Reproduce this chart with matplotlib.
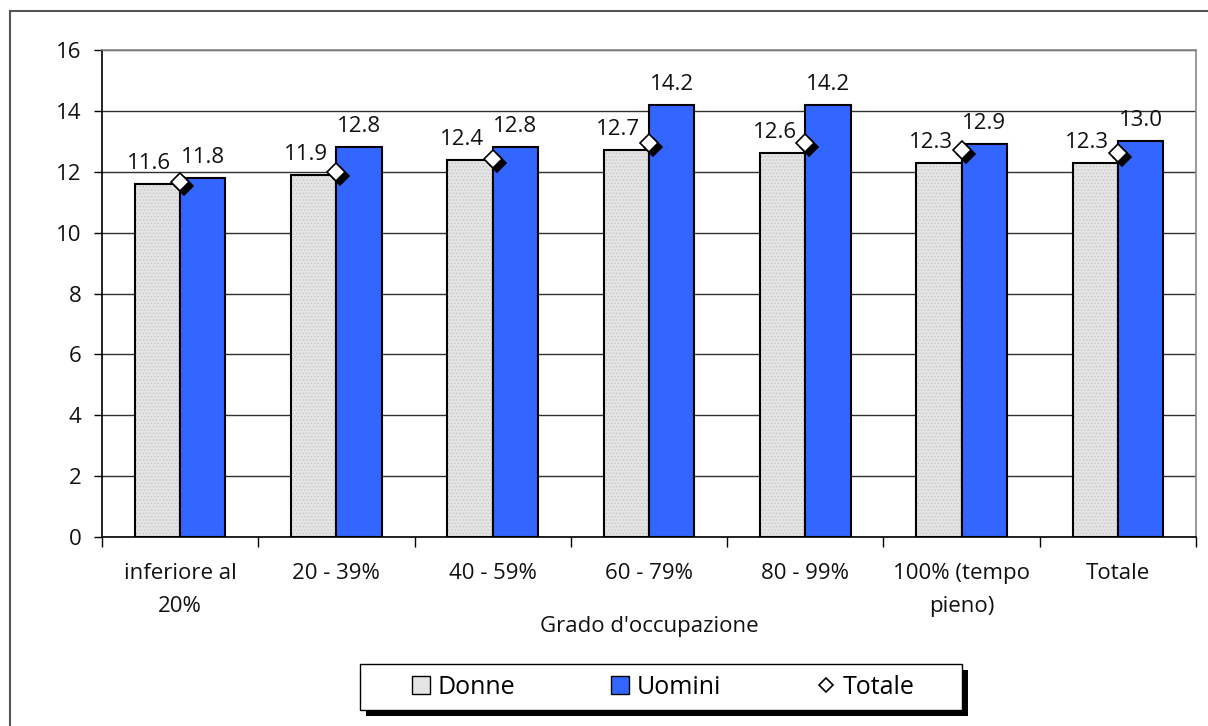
import numpy as np
import matplotlib
matplotlib.use('Agg')
import matplotlib.pyplot as plt
from matplotlib.patches import Rectangle, Patch
from matplotlib.lines import Line2D
from matplotlib.transforms import offset_copy

# values
categories = ['inferiore al\n20%', '20 - 39%', '40 - 59%', '60 - 79%',
              '80 - 99%', '100% (tempo\npieno)', 'Totale']
donne = [11.6, 11.9, 12.4, 12.7, 12.6, 12.3, 12.3]
uomini = [11.8, 12.8, 12.8, 14.2, 14.2, 12.9, 13.0]
totale = [11.65, 12.0, 12.43, 12.95, 12.95, 12.72, 12.6]
yticks = [0, 2, 4, 6, 8, 10, 12, 14, 16]
series_names = ['Donne', 'Uomini', 'Totale']
xlabel = "Grado d'occupazione"

W, H = 1208, 726
plt.rcParams['font.family'] = ['Open Sans', 'DejaVu Sans']
plt.rcParams['font.size'] = 16
plt.rcParams['hatch.linewidth'] = 0.5

fig = plt.figure(figsize=(W / 100, H / 100), dpi=100)
ax = fig.add_axes([102 / W, 1 - 537 / H, (1196 - 102) / W, (537 - 50) / H])

x = np.arange(len(categories))
w = 0.29
grey = '#e4e4e4'
blue = '#3366ff'

# donne: dotted grey fill, then black outline
ax.bar(x - w / 2, donne, w, color=grey, edgecolor='#c4c4c4', hatch='.....', linewidth=0, zorder=2)
ax.bar(x - w / 2, donne, w, fill=False, edgecolor='black', linewidth=1.5, zorder=3)
ax.bar(x + w / 2, uomini, w, color=blue, edgecolor='black', linewidth=1.5, zorder=3)

# totale: white diamond with a black shadow
shadow_tr = offset_copy(ax.transData, fig=fig, x=4, y=-4, units='dots')
ax.plot(x, totale, ls='none', marker='D', ms=9, mfc='black', mec='black', mew=1.2,
        transform=shadow_tr, zorder=4)
ax.plot(x, totale, ls='none', marker='D', ms=9, mfc='white', mec='black', mew=1.2, zorder=5)

for xi, v in zip(x, donne):
    ax.annotate('%.1f' % v, (xi - w / 2, v), xytext=(-8, 15), textcoords='offset pixels',
                ha='center', va='baseline', color='#111111')
for xi, v in zip(x, uomini):
    ax.annotate('%.1f' % v, (xi + w / 2, v), xytext=(0, 15), textcoords='offset pixels',
                ha='center', va='baseline', color='#111111')

ax.set_ylim(0, 16)
ax.set_xlim(-0.5, len(categories) - 0.5)
ax.set_yticks(yticks)
ax.set_yticklabels([str(t) for t in yticks])
ax.yaxis.grid(True, color='#303030', linewidth=1.0, zorder=0)
ax.set_axisbelow(True)

ax.set_xticks(x)
ax.set_xticklabels(categories, linespacing=1.75)
ax.set_xticks(np.arange(len(categories) + 1) - 0.5, minor=True)
ax.tick_params(axis='x', which='major', length=0, pad=19, colors='#111111')
ax.tick_params(axis='x', which='minor', length=7, width=1, color='black')
ax.tick_params(axis='y', length=6, width=1, pad=9, colors='#111111')
ax.tick_params(axis='y', color='black')

for s in ['left', 'bottom']:
    ax.spines[s].set_color('black')
    ax.spines[s].set_linewidth(1.2)
for s in ['top', 'right']:
    ax.spines[s].set_color('#888888')
    ax.spines[s].set_linewidth(1.2)

ax.set_xlabel(xlabel, color='#111111')
ax.xaxis.set_label_coords(0.5, -(616 - 537) / 487)

# legend with Excel-like box and shadow
handles = [Patch(facecolor=grey, edgecolor='black', linewidth=1),
           Patch(facecolor=blue, edgecolor='black', linewidth=1),
           Line2D([], [], ls='none', marker='D', ms=7, mfc='white', mec='black', mew=1.2)]
fig.add_artist(Rectangle((366 / W, 1 - 716 / H), 602 / W, 46 / H, transform=fig.transFigure,
                         facecolor='black', edgecolor='none', zorder=1))
fig.add_artist(Rectangle((360 / W, 1 - 710 / H), 602 / W, 46 / H, transform=fig.transFigure,
                         facecolor='white', edgecolor='black', linewidth=1, zorder=2))
fig.legend(handles, series_names, loc='center', bbox_to_anchor=(663 / W, 1 - 687 / H),
           ncol=3, frameon=False, fontsize=18, handlelength=0.75, handleheight=0.75,
           handletextpad=0.3, columnspacing=3.8)

# outer chart-area border (only left and top edges visible)
fig.add_artist(Line2D([10 / W, 10 / W], [0, 1 - 11 / H], transform=fig.transFigure,
                      color='#555555', linewidth=1.5))
fig.add_artist(Line2D([10 / W, 1], [1 - 11 / H, 1 - 11 / H], transform=fig.transFigure,
                      color='#555555', linewidth=1.5))

fig.savefig('out.png', dpi=100)
